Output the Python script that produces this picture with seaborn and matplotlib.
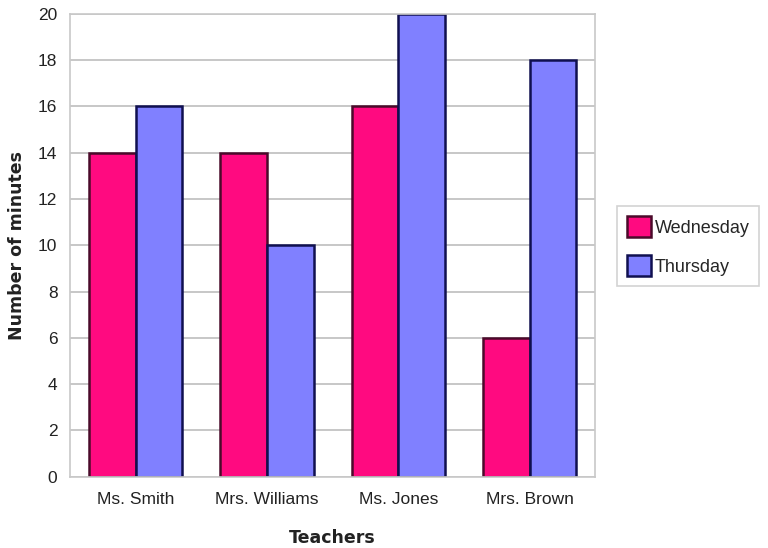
import matplotlib
matplotlib.use("Agg")
import matplotlib.pyplot as plt
from matplotlib.patches import Patch
import seaborn as sns
import pandas as pd

teachers = ["Ms. Smith", "Mrs. Williams", "Ms. Jones", "Mrs. Brown"]
wednesday = [14, 14, 16, 6]
thursday = [16, 10, 20, 18]
days = ["Wednesday", "Thursday"]
y_ticks = list(range(0, 21, 2))

df = pd.DataFrame({
    "Teachers": teachers * 2,
    "Minutes": wednesday + thursday,
    "Day": [days[0]] * len(teachers) + [days[1]] * len(teachers),
})

sns.set_theme(style="white")
plt.rcParams["font.family"] = ["Liberation Sans", "DejaVu Sans"]

fig = plt.figure(figsize=(7.68, 5.48), dpi=100)
ax = fig.add_axes([0.091, 0.130, 0.684, 0.845])

palette = {"Wednesday": "#FF0A80", "Thursday": "#8080FF"}
sns.barplot(data=df, x="Teachers", y="Minutes", hue="Day", order=teachers,
            hue_order=days, palette=palette, width=0.71, gap=0,
            saturation=1, ax=ax, legend=False)

edges = {0: "#4A0A2A", 1: "#101050"}
for i, cont in enumerate(ax.containers):
    for bar in cont:
        bar.set_edgecolor(edges[i])
        bar.set_linewidth(1.8)

ax.set_ylim(0, 20)
ax.set_xlim(-0.5, 3.5)
ax.set_yticks(y_ticks)
ax.yaxis.grid(True, color="#BDBDBD", linewidth=1.2)
ax.set_axisbelow(True)
for s in ax.spines.values():
    s.set_color("#C8C8C8")
    s.set_linewidth(1.2)
ax.tick_params(axis="both", length=0, labelsize=12.5, labelcolor="#222222")
ax.tick_params(axis="y", pad=9)
ax.tick_params(axis="x", pad=11)

ax.set_xlabel("Teachers", fontsize=12.5, fontweight="bold", family="DejaVu Sans",
              color="#222222", labelpad=16)
ax.set_ylabel("Number of minutes", fontsize=12.5, fontweight="bold",
              family="DejaVu Sans", color="#222222", labelpad=9)

handles = [Patch(facecolor=palette[d], edgecolor=edges[i], linewidth=1.8, label=d)
           for i, d in enumerate(days)]
leg = fig.legend(handles=handles, loc="center left", bbox_to_anchor=(0.804, 0.551),
                 frameon=True, fancybox=False, fontsize=13, handlelength=1.3,
                 handleheight=1.4, handletextpad=0.2, borderpad=0.55,
                 labelspacing=1.0, borderaxespad=0)
leg.get_frame().set_edgecolor("#C8C8C8")
leg.get_frame().set_linewidth(1.2)

fig.savefig("out.png", dpi=100)
